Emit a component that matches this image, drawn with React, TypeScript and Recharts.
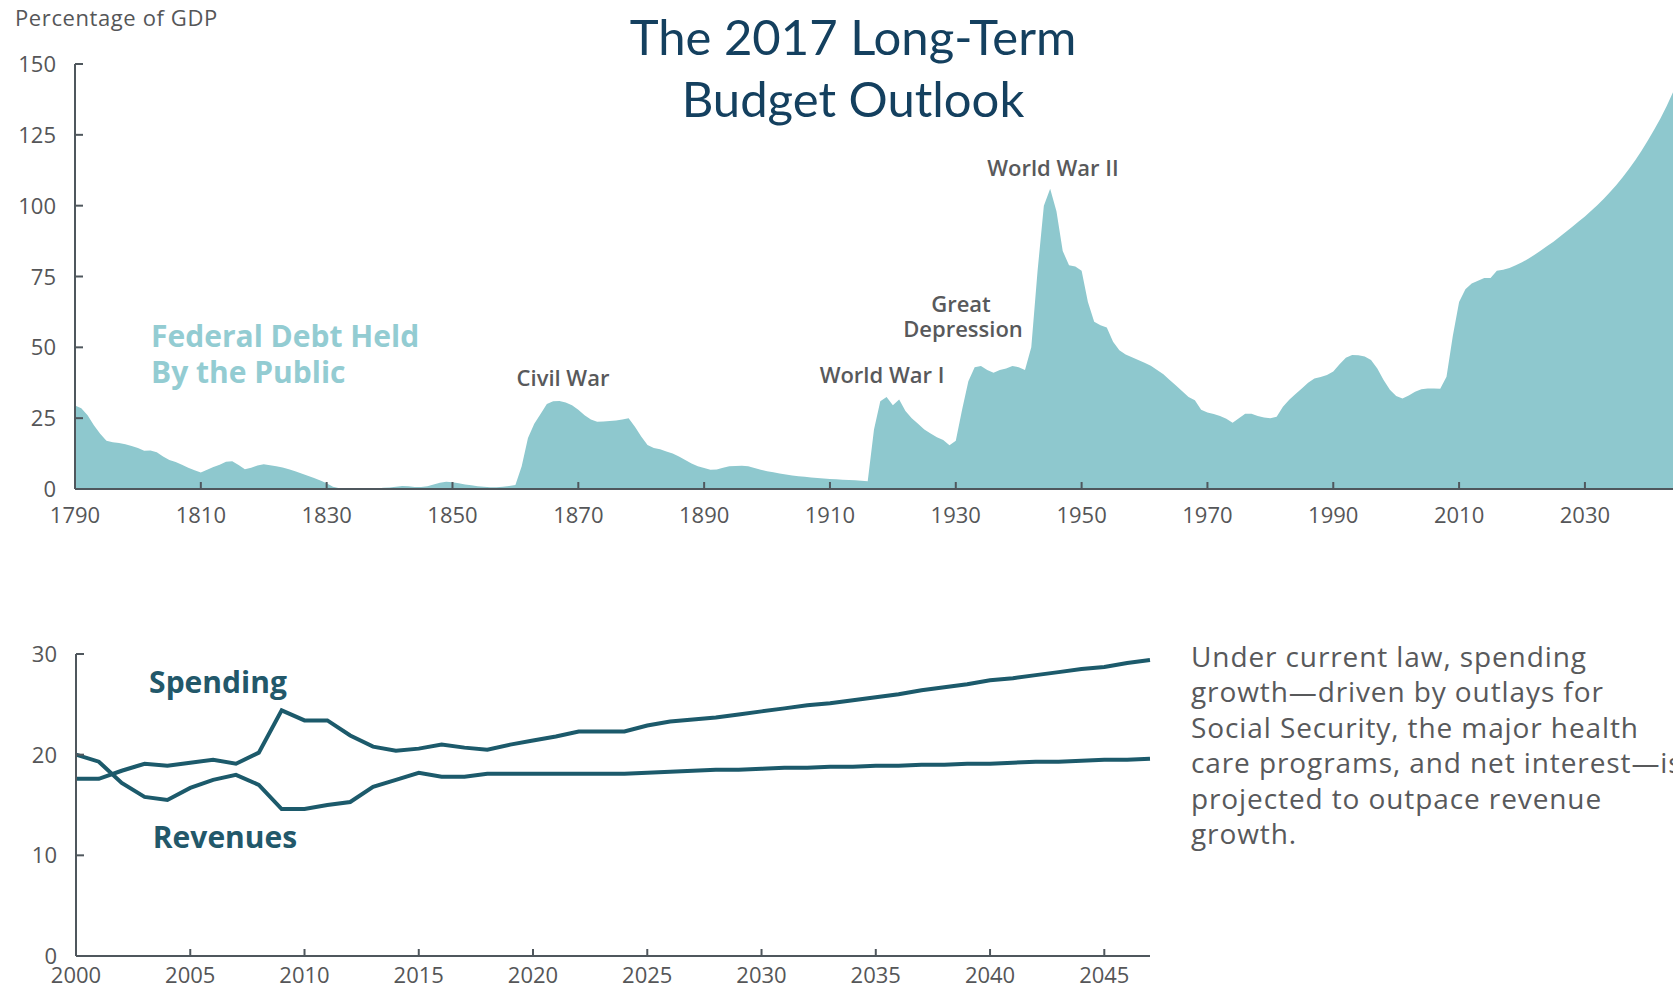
import { AreaChart, Area, LineChart, Line, XAxis, YAxis } from 'recharts';

// Federal debt held by the public, % of GDP, one value per year from 1790 to 2044
const debtStartYear = 1790;
const debtShare = [
  29.5, 28.5, 26, 22.5, 19.5, 17, 16.5, 16.2, 15.8, 15.2,
  14.5, 13.5, 13.6, 13, 11.5, 10.2, 9.5, 8.6, 7.5, 6.6,
  5.8, 6.8, 7.8, 8.6, 9.6, 9.8, 8.5, 7.0, 7.5, 8.3,
  8.7, 8.4, 8.0, 7.6, 7.0, 6.3, 5.5, 4.7, 3.9, 3.0,
  2.0, 0.8, 0.3, 0.1, 0.1, 0, 0, 0.1, 0.2, 0.4,
  0.5, 0.8, 1.1, 1.0, 0.7, 0.7, 1.0, 1.6, 2.2, 2.6,
  2.4, 2.0, 1.6, 1.3, 1.0, 0.8, 0.6, 0.6, 0.8, 1.1,
  1.4, 8, 18, 23, 26.5, 30, 31, 31.1, 30.5, 29.6,
  28, 26, 24.5, 23.7, 23.8, 24, 24.2, 24.5, 25, 22,
  18.5, 15.5, 14.5, 14, 13.2, 12.5, 11.5, 10.2, 9, 8,
  7.4, 6.8, 6.9, 7.5, 8.0, 8.1, 8.2, 8.0, 7.4, 6.8,
  6.3, 5.9, 5.5, 5.1, 4.8, 4.5, 4.3, 4.1, 3.9, 3.7,
  3.5, 3.4, 3.3, 3.2, 3.1, 2.9, 2.7, 21, 31, 32.5,
  29.6, 31.6, 27.5, 25, 23, 21, 19.6, 18.3, 17.3, 15.4,
  17, 28, 38, 43, 43.4, 42, 41, 42, 42.5, 43.4,
  43, 42, 50, 77, 100, 106, 98, 84, 79, 78.5,
  77, 66, 59, 57.8, 57, 52, 49, 47.5, 46.5, 45.5,
  44.6, 43.5, 42, 40.5, 38.5, 36.5, 34.5, 32.5, 31.3, 28,
  27, 26.5, 25.8, 24.8, 23.4, 25, 26.6, 26.6, 25.8, 25.2,
  25, 25.5, 29, 31.5, 33.5, 35.5, 37.5, 39, 39.5, 40.2,
  41.5, 44, 46.3, 47.3, 47.2, 46.8, 45.5, 42.5, 38.5, 35,
  32.8, 31.9, 33, 34.3, 35.2, 35.5, 35.5, 35.4, 39.6, 54,
  66, 70.5, 72.5, 73.5, 74.5, 74.5, 77, 77.4, 78, 79,
  80, 81.3, 82.7, 84.2, 85.8, 87.3, 89, 90.8, 92.6, 94.4,
  96.2, 98.2, 100.2, 102.4, 104.8, 107.3, 110, 112.9, 116, 119.4,
  123, 126.8, 130.8, 135.2, 140,
];
const debtYearTicks = [1790, 1810, 1830, 1850, 1870, 1890, 1910, 1930, 1950, 1970, 1990, 2010, 2030];
const debtValueTicks = [0, 25, 50, 75, 100, 125, 150];

// Spending and revenues, % of GDP, 2000 to 2047
const budgetStartYear = 2000;
const spending = [
  17.6, 17.6, 18.4, 19.1, 18.9, 19.2, 19.5, 19.1, 20.2, 24.4,
  23.4, 23.4, 21.9, 20.8, 20.4, 20.6, 21.0, 20.7, 20.5, 21.0,
  21.4, 21.8, 22.3, 22.3, 22.3, 22.9, 23.3, 23.5, 23.7, 24.0,
  24.3, 24.6, 24.9, 25.1, 25.4, 25.7, 26.0, 26.4, 26.7, 27.0,
  27.4, 27.6, 27.9, 28.2, 28.5, 28.7, 29.1, 29.4,
];
const revenues = [
  20.0, 19.3, 17.2, 15.8, 15.5, 16.7, 17.5, 18.0, 17.0, 14.6,
  14.6, 15.0, 15.3, 16.8, 17.5, 18.2, 17.8, 17.8, 18.1, 18.1,
  18.1, 18.1, 18.1, 18.1, 18.1, 18.2, 18.3, 18.4, 18.5, 18.5,
  18.6, 18.7, 18.7, 18.8, 18.8, 18.9, 18.9, 19.0, 19.0, 19.1,
  19.1, 19.2, 19.3, 19.3, 19.4, 19.5, 19.5, 19.6,
];
const budgetYearTicks = [2000, 2005, 2010, 2015, 2020, 2025, 2030, 2035, 2040, 2045];
const budgetValueTicks = [0, 10, 20, 30];

const noteLines = [
  'Under current law, spending',
  'growth\u2014driven by outlays for',
  'Social Security, the major health',
  'care programs, and net interest\u2014is',
  'projected to outpace revenue',
  'growth.',
];

const debtData = debtShare.map((debt, i) => ({ year: debtStartYear + i, debt }));
const budgetData = spending.map((s, i) => ({
  year: budgetStartYear + i,
  spending: s,
  revenues: revenues[i],
}));

const FONT = '"Open Sans", "Liberation Sans", sans-serif';
const AXIS = '#4f575d';
const TICK_TEXT = '#555658';
const TEAL = '#8ec8ce';
const DARK_TEAL = '#1c5a6b';

const XTick = ({ x, y, payload, dy }: any) => (
  <g>
    <line x1={x} x2={x} y1={y - 7} y2={y} stroke={AXIS} strokeWidth={2} />
    <text x={x} y={y + dy} textAnchor="middle" fill={TICK_TEXT} fontSize={22} fontFamily={FONT}>
      {payload.value}
    </text>
  </g>
);

const YTick = ({ x, y, payload }: any) => (
  <g>
    <line x1={x} x2={x + 8} y1={y} y2={y} stroke={AXIS} strokeWidth={2} />
    <text x={x - 19} y={y + 8} textAnchor="end" fill={TICK_TEXT} fontSize={22} fontFamily={FONT}>
      {payload.value}
    </text>
  </g>
);

export default function App() {
  return (
    <div
      style={{
        position: 'absolute',
        left: 0,
        top: 0,
        width: 1673,
        height: 989,
        overflow: 'hidden',
        background: '#fff',
      }}
    >
      <div style={{ position: 'absolute', left: 0, top: 0 }}>
        <AreaChart width={1673} height={540} data={debtData} margin={{ top: 64, right: 0, bottom: 11, left: 0 }}>
          <Area
            type="linear"
            dataKey="debt"
            stroke="none"
            fill={TEAL}
            fillOpacity={1}
            dot={false}
            activeDot={false}
            isAnimationActive={false}
          />
          <XAxis
            type="number"
            dataKey="year"
            domain={[1790, 2044]}
            ticks={debtYearTicks}
            allowDataOverflow
            height={40}
            tickSize={0}
            tickMargin={0}
            axisLine={{ stroke: AXIS, strokeWidth: 2 }}
            tick={(p: any) => <XTick {...p} dy={34} />}
          />
          <YAxis
            type="number"
            domain={[0, 150]}
            ticks={debtValueTicks}
            width={75}
            tickSize={0}
            tickMargin={0}
            axisLine={{ stroke: AXIS, strokeWidth: 2 }}
            tick={(p: any) => <YTick {...p} />}
          />
        </AreaChart>
      </div>

      <div style={{ position: 'absolute', left: 0, top: 600 }}>
        <LineChart width={1160} height={400} data={budgetData} margin={{ top: 54, right: 10, bottom: 10, left: 0 }}>
          <XAxis
            type="number"
            dataKey="year"
            domain={[2000, 2047]}
            ticks={budgetYearTicks}
            height={34}
            tickSize={0}
            tickMargin={0}
            axisLine={{ stroke: AXIS, strokeWidth: 2 }}
            tick={(p: any) => <XTick {...p} dy={27} />}
          />
          <YAxis
            type="number"
            domain={[0, 30]}
            ticks={budgetValueTicks}
            width={76}
            tickSize={0}
            tickMargin={0}
            axisLine={{ stroke: AXIS, strokeWidth: 2 }}
            tick={(p: any) => <YTick {...p} />}
          />
          <Line
            type="linear"
            dataKey="spending"
            stroke={DARK_TEAL}
            strokeWidth={4}
            dot={false}
            activeDot={false}
            isAnimationActive={false}
          />
          <Line
            type="linear"
            dataKey="revenues"
            stroke={DARK_TEAL}
            strokeWidth={4}
            dot={false}
            activeDot={false}
            isAnimationActive={false}
          />
        </LineChart>
      </div>

      <svg
        width={1673}
        height={989}
        style={{ position: 'absolute', left: 0, top: 0, pointerEvents: 'none' }}
      >
        <g fontFamily='Lato, "Open Sans", sans-serif' fill="#14405f" fontSize={49} textAnchor="middle">
          <text x={853} y={55}>The 2017 Long-Term</text>
          <text x={853} y={117}>Budget Outlook</text>
        </g>
        <text x={15} y={26} fontFamily={FONT} fontSize={22} fill={TICK_TEXT} letterSpacing={0.6}>
          Percentage of GDP
        </text>

        <g fontFamily={FONT} fontSize={30} fontWeight={700} fill="#93ccd2">
          <text x={151} y={347}>Federal Debt Held</text>
          <text x={151} y={383}>By the Public</text>
        </g>

        <g fontFamily={FONT} fontSize={22} fontWeight={600} fill="#58595b" textAnchor="middle">
          <text x={563} y={386}>Civil War</text>
          <text x={882} y={383}>World War I</text>
          <text x={961} y={312}>Great</text>
          <text x={963} y={337}>Depression</text>
          <text x={1053} y={176}>World War II</text>
        </g>

        <g fontFamily={FONT} fontSize={30} fontWeight={700} fill="#22586a" textAnchor="middle">
          <text x={218} y={693}>Spending</text>
          <text x={225} y={848}>Revenues</text>
        </g>

        <text fontFamily={FONT} fontSize={28} fill="#58595b" letterSpacing={0.9}>
          {noteLines.map((line, i) => (
            <tspan key={i} x={1191} y={667 + i * 35.4}>
              {line}
            </tspan>
          ))}
        </text>
      </svg>
    </div>
  );
}
